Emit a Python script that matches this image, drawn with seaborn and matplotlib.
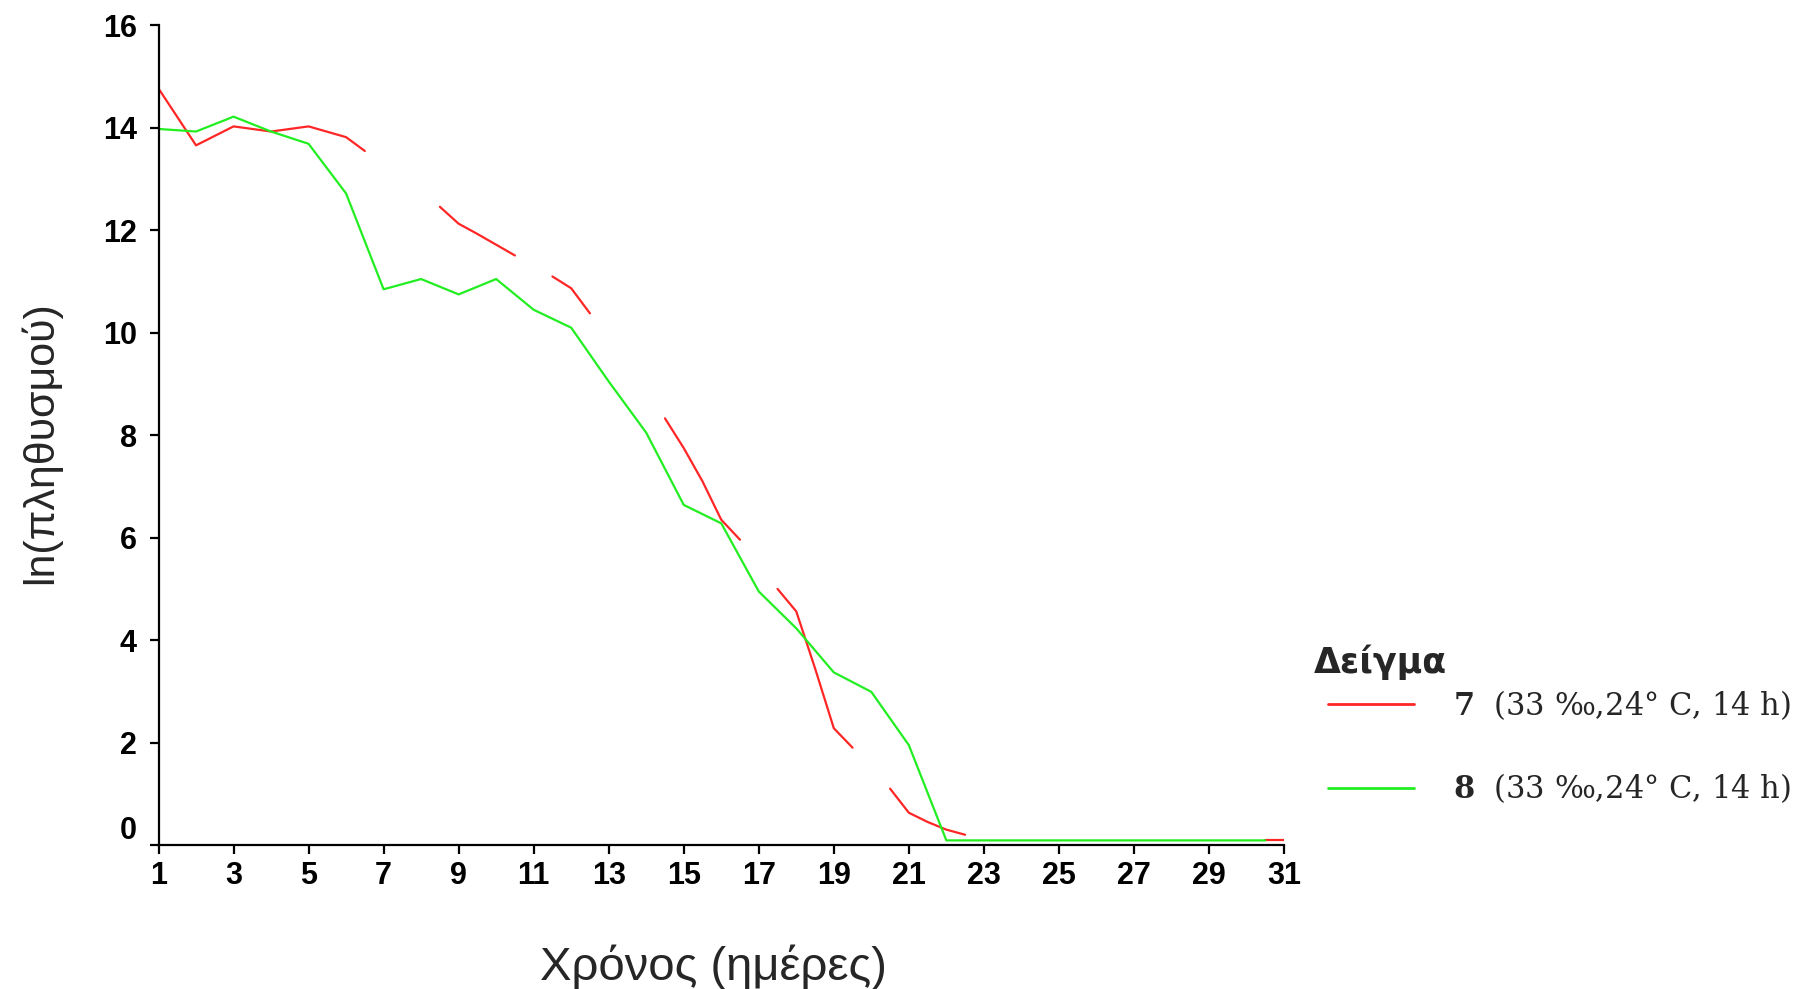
import numpy as np
import pandas as pd
import matplotlib
matplotlib.use("Agg")
import matplotlib.pyplot as plt
from matplotlib.transforms import ScaledTranslation
import seaborn as sns

# ---- data ----
green_days = [1, 2, 3, 4, 5, 6, 7, 8, 9, 10, 11, 12, 13, 14, 15, 16, 17, 18, 19, 20,
              21, 22, 23, 24, 25, 26, 27, 28, 29, 30, 30.5]
green_vals = [13.98, 13.93, 14.22, 13.93, 13.69, 12.72, 10.85, 11.05, 10.75, 11.05,
              10.45, 10.10, 9.05, 8.05, 6.64, 6.28, 4.95, 4.23, 3.37, 2.99,
              1.95, 0.09, 0.09, 0.09, 0.09, 0.09, 0.09, 0.09, 0.09, 0.09, 0.09]

red_days = [1, 2, 3, 4, 5, 6, 6.5,
            8.5, 9, 9.5, 10, 10.5,
            11.5, 12, 12.5,
            14.5, 15, 15.5, 16, 16.5,
            17.5, 18, 18.5, 19, 19.5,
            20.5, 21, 21.5, 22, 22.5,
            30.5, 31]
red_vals = [14.77, 13.66, 14.03, 13.93, 14.03, 13.82, 13.55,
            12.46, 12.13, 11.93, 11.72, 11.51,
            11.10, 10.87, 10.38,
            8.33, 7.75, 7.10, 6.35, 5.96,
            5.00, 4.56, 3.45, 2.28, 1.90,
            1.10, 0.63, 0.45, 0.30, 0.20,
            0.09, 0.09]
red_segment = [1, 1, 1, 1, 1, 1, 1,
               2, 2, 2, 2, 2,
               3, 3, 3,
               4, 4, 4, 4, 4,
               5, 5, 5, 5, 5,
               6, 6, 6, 6, 6,
               7, 7]

x_ticks = list(range(1, 32, 2))
y_ticks = [0, 2, 4, 6, 8, 10, 12, 14, 16]
series_labels = {"7": r"$\mathbf{7}$  (33 ‰,24° C, 14 h)",
                 "8": r"$\mathbf{8}$  (33 ‰,24° C, 14 h)"}
legend_title = "Δείγμα"
x_label = "Χρόνος (ημέρες)"
y_label = "ln(πληθυσμού)"

df = pd.concat([
    pd.DataFrame({"day": red_days, "val": red_vals, "sample": "7",
                  "seg": [f"r{s}" for s in red_segment]}),
    pd.DataFrame({"day": green_days, "val": green_vals, "sample": "8",
                  "seg": "g1"}),
], ignore_index=True)

sns.set_style("ticks")
plt.rcParams["font.family"] = ["Liberation Sans", "DejaVu Sans"]
plt.rcParams["mathtext.fontset"] = "dejavuserif"

fig = plt.figure(figsize=(18.14, 9.89), dpi=100)
ax = fig.add_axes([0.08738, 0.14560, 0.62045, 0.82862])

palette = {"7": "#ff2626", "8": "#22ee22"}
sns.lineplot(data=df, x="day", y="val", hue="sample", units="seg",
             estimator=None, sort=False, palette=palette, linewidth=1.6,
             ax=ax, legend=True)

ax.set_xlim(1, 31)
ax.set_ylim(0, 16)
ax.set_xticks(x_ticks)
ax.set_yticks(y_ticks)
for s in ["top", "right"]:
    ax.spines[s].set_visible(False)
for s in ["left", "bottom"]:
    ax.spines[s].set_linewidth(1.6)
    ax.spines[s].set_color("black")
ax.tick_params(axis="both", length=6.5, width=1.6, color="black",
               labelsize=22, labelcolor="black")
ax.tick_params(axis="y", pad=9)
ax.tick_params(axis="x", pad=5)
for lab in ax.get_xticklabels() + ax.get_yticklabels():
    lab.set_fontweight("bold")

ax.set_xlabel(x_label, fontsize=34)
ax.set_ylabel(y_label, fontsize=31)
ax.xaxis.set_label_coords(0.4927, -0.1489)
ax.xaxis.label.set_va("center")
ax.yaxis.set_label_coords(-0.1053, 0.4905)
ax.yaxis.label.set_va("center")

# legend
handles, labels = ax.get_legend_handles_labels()
ax.get_legend().remove()
hmap = dict(zip(labels, handles))
order = ["7", "8"]
leg = fig.legend([hmap[k] for k in order], [series_labels[k] for k in order],
                 loc="upper left", bbox_to_anchor=(1328 / 1814, 1 - 688 / 989),
                 frameon=False, borderpad=0, borderaxespad=0,
                 handlelength=2.82, handletextpad=1.27, labelspacing=1.62,
                 prop={"family": "DejaVu Serif", "size": 22})
for h in leg.get_lines():
    h.set_linewidth(2.0)
fig.text(1314 / 1814, 1 - 662 / 989, legend_title, fontsize=25,
         fontweight="bold", family="DejaVu Sans", ha="left", va="center")

# zero label sits slightly above its tick
ticks = ax.yaxis.get_major_ticks()
for t in ticks:
    if abs(t.get_loc()) < 1e-9:
        t.label1.set_transform(t.label1.get_transform() +
                               ScaledTranslation(0, 18 / 100, fig.dpi_scale_trans))

fig.savefig("out.png", dpi=100)
